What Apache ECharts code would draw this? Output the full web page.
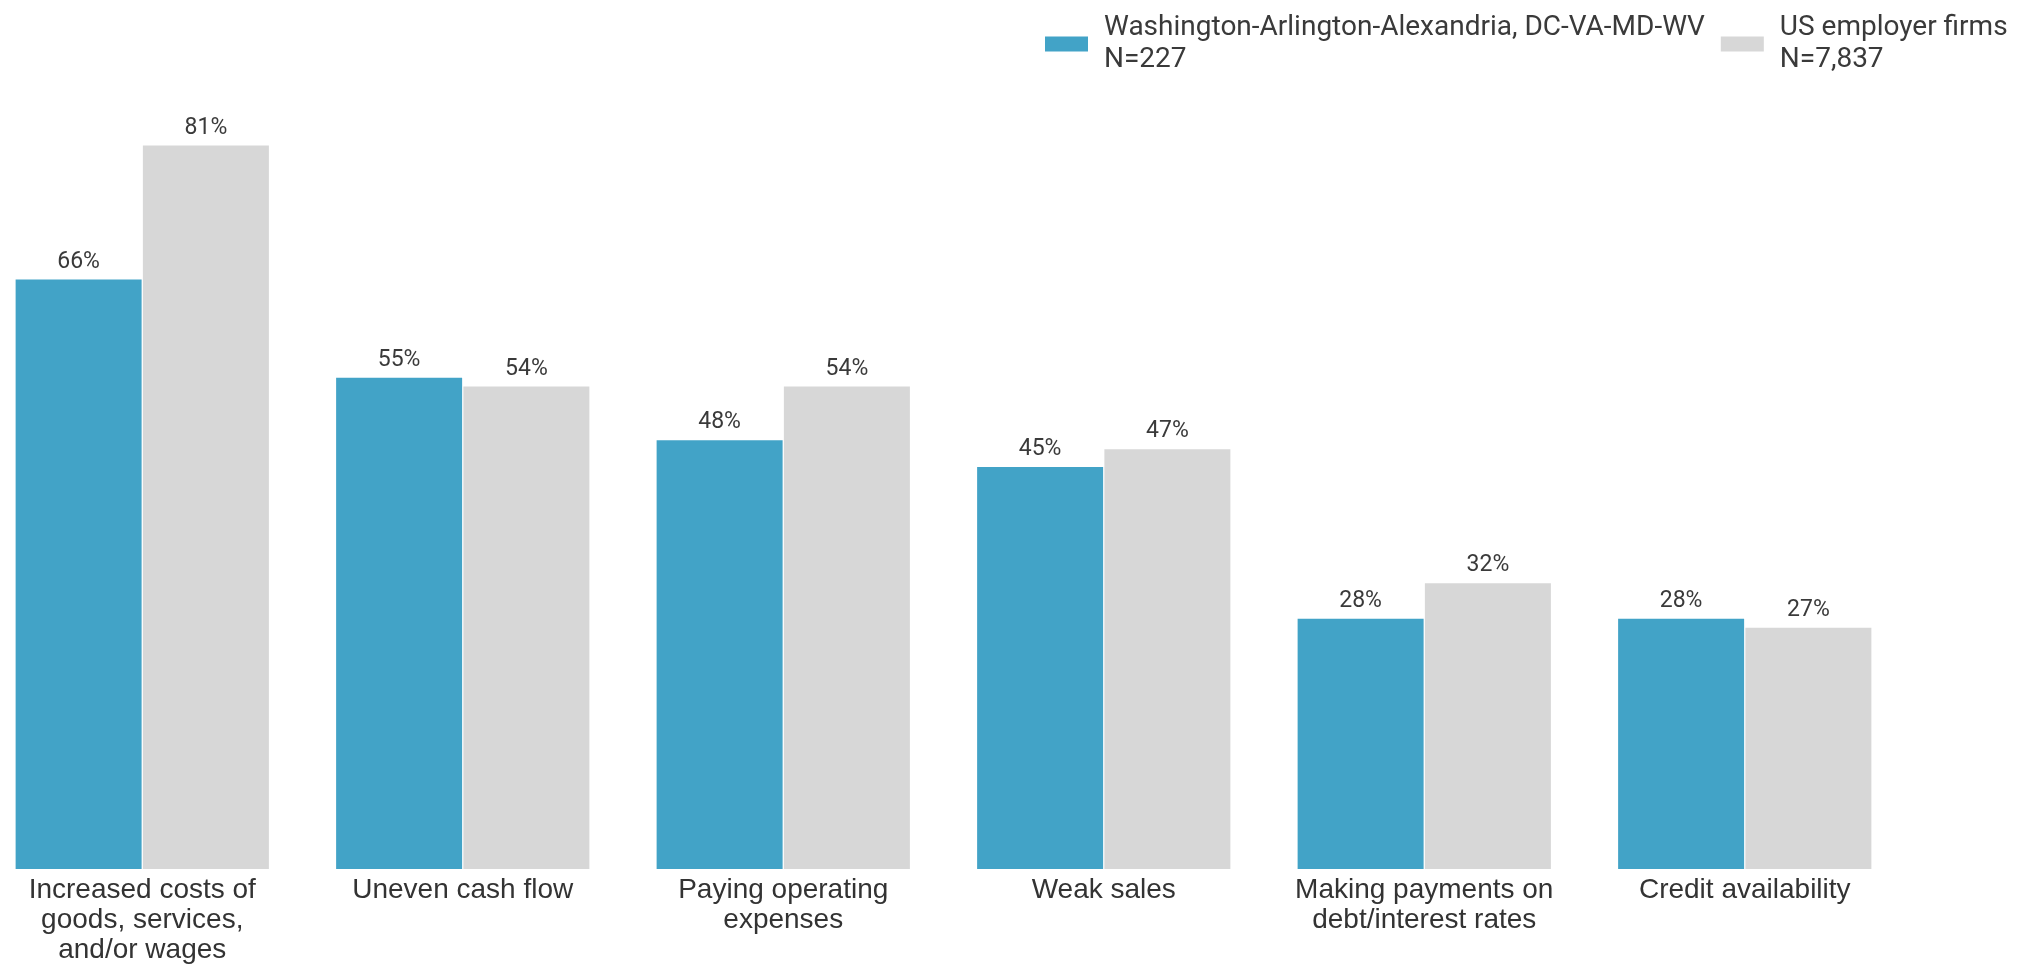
<!DOCTYPE html>
<html>
<head>
<meta charset="utf-8">
<script src="https://cdn.jsdelivr.net/npm/echarts@6/dist/echarts.min.js"></script>
<style>html,body{margin:0;padding:0;background:#fff;overflow:hidden}#c{width:2052px;height:968px;margin-left:-18px}</style>
</head>
<body>
<div id="c"></div>
<script>
const categories = [
  'Increased costs of\ngoods, services,\nand/or wages',
  'Uneven cash flow',
  'Paying operating\nexpenses',
  'Weak sales',
  'Making payments on\ndebt/interest rates',
  'Credit availability'
];
const seriesNames = ['Washington-Arlington-Alexandria, DC-VA-MD-WV\nN=227', 'US employer firms\nN=7,837'];
const metroValues = [66, 55, 48, 45, 28, 28];
const usValues = [81, 54, 54, 47, 32, 27];

const chart = echarts.init(document.getElementById('c'));
const font = 'Roboto, "Noto Sans", sans-serif';
const labelCfg = {show: true, position: 'top', distance: 6, formatter: '{c}%', color: '#3a3a3a', fontSize: 23, fontFamily: font};
chart.setOption({
  animation: false,
  textStyle: {fontFamily: font},
  legend: {
    top: 7, left: 1058,
    itemWidth: 43, itemHeight: 15, itemGap: 16,
    icon: 'rect',
    textStyle: {fontSize: 28, color: '#3a3a3a', lineHeight: 32, fontFamily: font, padding: [0, 0, 0, 11]},
    data: seriesNames
  },
  grid: {left: 0, right: 129, top: 65, bottom: 99, containLabel: false},
  xAxis: {
    type: 'category', data: categories,
    axisLine: {show: false}, axisTick: {show: false},
    axisLabel: {color: '#333', fontSize: 28, lineHeight: 30, margin: 6, fontFamily: '"Liberation Sans", Arial, sans-serif', interval: 0}
  },
  yAxis: {type: 'value', min: 0, max: 90, show: false, splitLine: {show: false}},
  series: [
    {name: seriesNames[0], type: 'bar', data: metroValues, barWidth: 126, barGap: '1%',
     itemStyle: {color: '#42A3C7'}, label: labelCfg},
    {name: seriesNames[1], type: 'bar', data: usValues, barWidth: 126,
     itemStyle: {color: '#D7D7D7'}, label: labelCfg}
  ]
});
</script>
</body>
</html>
